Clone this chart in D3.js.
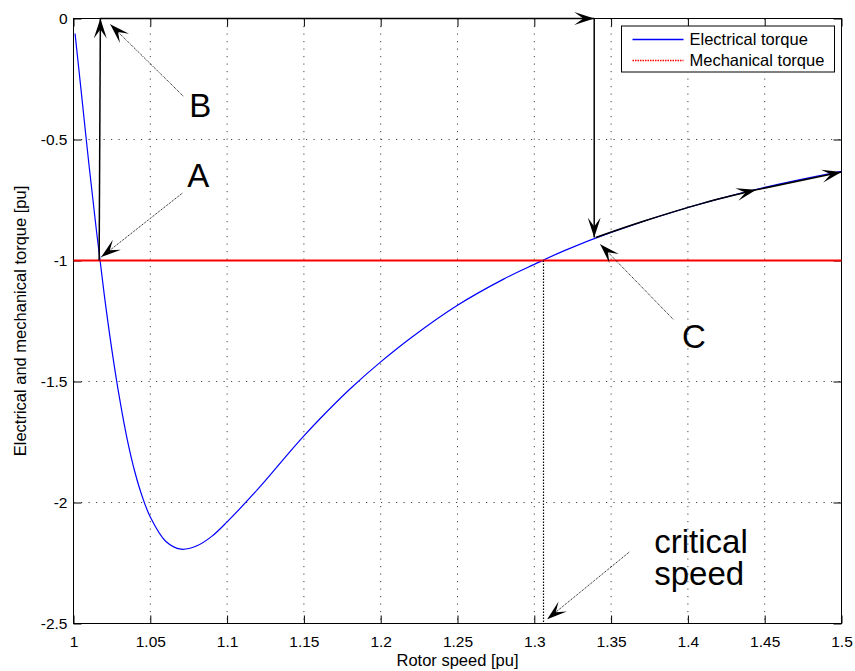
<!DOCTYPE html>
<html lang="en">
<head>
    <meta charset="UTF-8">
    <title>Torque vs rotor speed</title>
    <script src="https://cdnjs.cloudflare.com/ajax/libs/d3/7.8.5/d3.min.js"></script>
    <style>
        body { margin: 0; background: #fff; }
        svg text { font-family: 'Liberation Sans', Arial, Helvetica, sans-serif; fill: #000; }
        .tick text { font-size: 15.5px; }
        .grid line { stroke: #444; stroke-width: 1; stroke-dasharray: 1.2,6.3; }
    </style>
</head>
<body>
<svg id="chart"></svg>
<script>
// rotor speed [pu] and electrical torque [pu]
const speed = [1.001, 1.005, 1.01, 1.015, 1.02, 1.025, 1.03, 1.035, 1.04, 1.045, 1.05, 1.06, 1.07, 1.08, 1.09,
    1.1, 1.12, 1.14, 1.15, 1.16, 1.18, 1.2, 1.22, 1.25, 1.28, 1.3, 1.32, 1.35, 1.4, 1.45, 1.5]
const elecTorque = [-0.062, -0.30, -0.60, -0.88, -1.14, -1.37, -1.57, -1.74, -1.875, -1.98, -2.06, -2.16, -2.193, -2.18, -2.14,
    -2.08, -1.945, -1.797, -1.725, -1.657, -1.531, -1.419, -1.318, -1.185, -1.077, -1.016, -0.958, -0.884, -0.781, -0.698, -0.632]
const mechTorque = -1
const criticalSpeed = 1.306

const xTicks = [1, 1.05, 1.1, 1.15, 1.2, 1.25, 1.3, 1.35, 1.4, 1.45, 1.5]
const yTicks = [0, -0.5, -1, -1.5, -2, -2.5]

// operating path A -> B -> C and along the curve
const pathArrows = [
    [[1.0167, -1], [1.0175, 0]],
    [[1.0175, 0], [1.339, 0]],
    [[1.339, 0], [1.339, -0.905]],
    [[1.34, -0.905], [1.37, -0.84], [1.41, -0.763], [1.4445, -0.708]],
    [[1.4445, -0.708], [1.5, -0.634]]
]
// labels with dotted pointer arrows
const labels = [
    {text: ['B'], at: [1.0754, -0.408], from: [1.0715, -0.321], to: [1.0239, -0.024]},
    {text: ['A'], at: [1.074, -0.697], from: [1.0708, -0.722], to: [1.018, -0.986]},
    {text: ['C'], at: [1.3962, -1.362], from: [1.3904, -1.243], to: [1.3429, -0.933]},
    {text: ['critical', 'speed'], at: [1.3781, -2.209], from: [1.3618, -2.205], to: [1.3084, -2.482]}
]

const margin = {top: 18.5, right: 13.5, bot: 47.5, left: 73.5}
const W = 855, H = 671
const w = W - margin.left - margin.right,
      h = H - margin.top - margin.bot

const svg = d3.select('#chart').attr('width', W).attr('height', H)
const g = svg.append('g').attr('transform', 'translate(' + margin.left + ',' + margin.top + ')')

const x = d3.scaleLinear().domain([1, 1.5]).range([0, w])
const y = d3.scaleLinear().domain([-2.5, 0]).range([h, 0])

// grid
g.append('g').attr('class', 'grid')
    .selectAll('line').data(xTicks.slice(1, -1)).join('line')
    .attr('x1', d => x(d)).attr('x2', d => x(d)).attr('y1', 0).attr('y2', h)
g.append('g').attr('class', 'grid')
    .selectAll('line').data(yTicks.slice(1, -1)).join('line')
    .attr('x1', 0).attr('x2', w).attr('y1', d => y(d)).attr('y2', d => y(d))

// axes, ticks pointing inwards
const fmt = d => String(d)
const xAxis = g.append('g').attr('transform', 'translate(0,' + h + ')')
    .call(d3.axisBottom(x).tickValues(xTicks).tickFormat(fmt).tickSize(-8).tickSizeOuter(0).tickPadding(12))
const yAxis = g.append('g')
    .call(d3.axisLeft(y).tickValues(yTicks).tickFormat(fmt).tickSize(-8).tickSizeOuter(0).tickPadding(6))
g.append('g').call(d3.axisTop(x).tickValues(xTicks).tickFormat('').tickSize(-8).tickSizeOuter(0))
g.append('g').attr('transform', 'translate(' + w + ',0)')
    .call(d3.axisRight(y).tickValues(yTicks).tickFormat('').tickSize(-8).tickSizeOuter(0))
g.selectAll('.domain').remove()
g.selectAll('.tick line').attr('stroke', '#000')
xAxis.selectAll('text').attr('dy', '0.71em')

g.append('rect').attr('width', w).attr('height', h)
    .attr('fill', 'none').attr('stroke', '#000').attr('stroke-width', 1)

// arrow head, MATLAB style
const defs = svg.append('defs')
defs.append('marker').attr('id', 'head')
    .attr('viewBox', '-20 -7 21 14').attr('refX', 0).attr('refY', 0)
    .attr('markerWidth', 21).attr('markerHeight', 14)
    .attr('markerUnits', 'userSpaceOnUse').attr('orient', 'auto')
    .append('path').attr('d', 'M0,0 L-20,-6.5 L-11,0 L-20,6.5 Z').attr('fill', '#000')

// curves
const line = d3.line().x(d => x(d[0])).y(d => y(d[1])).curve(d3.curveCatmullRom)
g.append('path').datum(d3.zip(speed, elecTorque))
    .attr('d', line).attr('fill', 'none').attr('stroke', '#0000ff').attr('stroke-width', 1.2)

g.append('line').attr('x1', x(1)).attr('x2', x(1.5)).attr('y1', y(mechTorque)).attr('y2', y(mechTorque))
    .attr('stroke', '#ff0000').attr('stroke-width', 2)

g.append('line').attr('x1', Math.round(x(criticalSpeed))).attr('x2', Math.round(x(criticalSpeed)))
    .attr('y1', y(mechTorque)).attr('y2', y(-2.5))
    .attr('stroke', '#000').attr('stroke-width', 1.2).attr('stroke-dasharray', '1.5,1.5')

// operating path arrows
g.selectAll('.patharrow').data(pathArrows).join('path')
    .attr('class', 'patharrow')
    .attr('d', d => d3.line().x(p => x(p[0])).y(p => y(p[1])).curve(d3.curveCatmullRom)(d))
    .attr('fill', 'none').attr('stroke', '#000').attr('stroke-width', 1.5)
    .attr('marker-end', 'url(#head)')

// labels and dotted pointers
g.selectAll('.pointer').data(labels).join('line')
    .attr('class', 'pointer')
    .attr('x1', d => x(d.from[0])).attr('y1', d => y(d.from[1]))
    .attr('x2', d => x(d.to[0])).attr('y2', d => y(d.to[1]))
    .attr('stroke', '#000').attr('stroke-width', 1).attr('stroke-dasharray', '1,1')
    .attr('marker-end', 'url(#head)')

labels.forEach(d => {
    d.text.forEach((s, i) => {
        g.append('text').attr('x', x(d.at[0])).attr('y', y(d.at[1]) + i * 32)
            .attr('font-size', 33).text(s)
    })
})

// axis labels
svg.append('text')
    .attr('x', margin.left + w / 2).attr('y', H - 5)
    .attr('text-anchor', 'middle').attr('font-size', 16.5)
    .text('Rotor speed [pu]')
svg.append('text')
    .attr('transform', 'translate(26,' + (margin.top + h / 2) + ') rotate(-90)')
    .attr('text-anchor', 'middle').attr('font-size', 16.5)
    .text('Electrical and mechanical torque [pu]')

// legend
const legend = g.append('g').attr('transform', 'translate(' + (w - 220) + ',7.5)')
legend.append('rect').attr('width', 213).attr('height', 46)
    .attr('fill', '#fff').attr('stroke', '#000').attr('stroke-width', 1)
const legendItems = [
    {name: 'Electrical torque', color: '#0000ff', dash: null},
    {name: 'Mechanical torque', color: '#ff0000', dash: '1.5,1'}
]
legendItems.forEach((d, i) => {
    legend.append('line').attr('x1', 11).attr('x2', 62).attr('y1', 13.5 + i * 21).attr('y2', 13.5 + i * 21)
        .attr('stroke', d.color).attr('stroke-width', 1.3).attr('stroke-dasharray', d.dash)
    legend.append('text').attr('x', 68).attr('y', 19 + i * 21).attr('font-size', 16.5).text(d.name)
})
</script>
</body>
</html>
